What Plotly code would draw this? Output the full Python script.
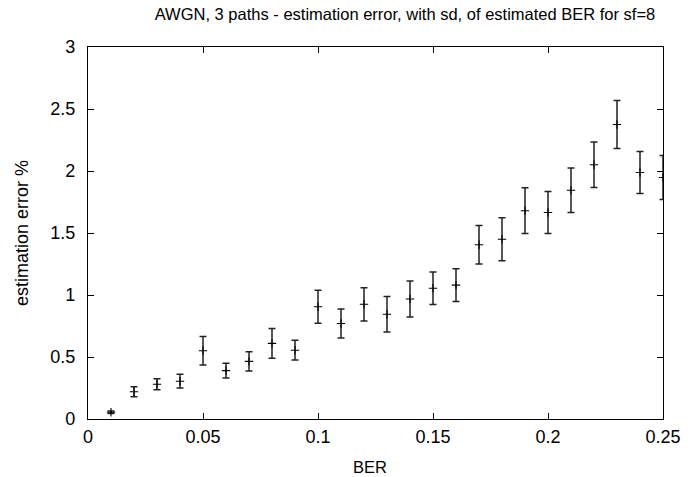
import plotly.graph_objects as go

ber = [0.01, 0.02, 0.03, 0.04, 0.05, 0.06, 0.07, 0.08, 0.09, 0.10, 0.11, 0.12, 0.13,
       0.14, 0.15, 0.16, 0.17, 0.18, 0.19, 0.20, 0.21, 0.22, 0.23, 0.24, 0.25]
err_pct = [0.055, 0.22, 0.28, 0.305, 0.55, 0.39, 0.465, 0.61, 0.555, 0.905, 0.77, 0.925, 0.845,
           0.968, 1.055, 1.08, 1.405, 1.45, 1.68, 1.665, 1.845, 2.05, 2.375, 1.988, 1.948]
sd = [0.01, 0.04, 0.045, 0.055, 0.115, 0.06, 0.078, 0.12, 0.08, 0.133, 0.117, 0.134, 0.143,
      0.145, 0.131, 0.132, 0.155, 0.173, 0.185, 0.17, 0.18, 0.183, 0.193, 0.17, 0.178]

x_ticks = [0, 0.05, 0.1, 0.15, 0.2, 0.25]
x_labels = ["0", "0.05", "0.1", "0.15", "0.2", "0.25"]
y_ticks = [0, 0.5, 1, 1.5, 2, 2.5, 3]
y_labels = ["0", "0.5", "1", "1.5", "2", "2.5", "3"]

font = "Liberation Sans, Arial, sans-serif"

fig = go.Figure()
fig.add_trace(go.Scatter(
    x=ber, y=err_pct, mode="markers",
    marker=dict(symbol="cross-thin", size=6, line=dict(width=1.1, color="black"), color="black"),
    error_y=dict(type="data", array=sd, visible=True, color="#222222", thickness=1.5, width=3.5),
    showlegend=False,
))

axis_common = dict(
    showgrid=False, zeroline=False, showline=True, linecolor="black", linewidth=1.3,
    mirror="allticks", ticks="inside", ticklen=6, tickwidth=1, tickcolor="black",
    tickfont=dict(family=font, size=18, color="black"), automargin=False,
)

fig.update_layout(
    width=694, height=477,
    margin=dict(l=88, r=31, t=47, b=58),
    plot_bgcolor="white", paper_bgcolor="white",
    title=dict(text="AWGN, 3 paths - estimation error, with sd, of estimated BER for sf=8",
               x=405 / 694, xref="container", xanchor="center", y=0.97, yanchor="middle",
               font=dict(family=font, size=16.5, color="black")),
    xaxis=dict(range=[0, 0.25], tickvals=x_ticks, ticktext=x_labels,
               ticklabelstandoff=1, **axis_common),
    yaxis=dict(range=[0, 3], tickvals=y_ticks, ticktext=y_labels,
               title=dict(text="estimation error %", font=dict(family=font, size=18, color="black"), standoff=16),
               ticklabelstandoff=8, **axis_common),
    annotations=[dict(text="BER", xref="paper", yref="paper", x=0.49, y=-0.129,
                      xanchor="center", yanchor="middle", showarrow=False,
                      font=dict(family=font, size=16.5, color="black"))],
)

fig.write_html("out.html")
